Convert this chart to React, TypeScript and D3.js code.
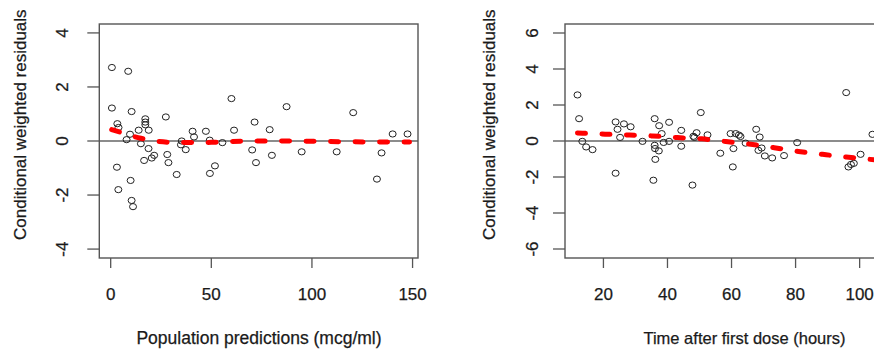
import React from "react";
import * as d3 from "d3";

// ---- Data ----
const popPredX = [0.6, 8.7, 0.6, 10.4, 3.3, 3.9, 9.6, 7.9, 13.9, 17.2, 17.2, 17.2, 18.9, 15, 18.8, 16.6, 20.4, 21.6, 3.1, 3.8, 9.9, 10.4, 11.1, 27.4, 28.1, 28.7, 32.8, 35.3, 34.9, 37.3, 40.7, 41.4, 47.3, 49.2, 49.3, 51.8, 55.5, 60, 61.3, 70.3, 71.5, 72.2, 79, 80.1, 87.4, 94.9, 112.3, 120.5, 132.3, 134.6, 140.1, 147.5];
const popPredCwres = [2.72, 2.58, 1.22, 1.09, 0.64, 0.5, 0.25, 0.05, 0.4, 0.82, 0.7, 0.6, 0.4, -0.1, -0.28, -0.72, -0.63, -0.53, -0.97, -1.8, -1.46, -2.2, -2.43, 0.89, -0.5, -0.8, -1.24, 0.0, -0.14, -0.32, 0.36, 0.15, 0.36, 0.03, -1.2, -0.92, -0.06, 1.57, 0.4, -0.33, 0.7, -0.8, 0.42, -0.53, 1.27, -0.4, -0.4, 1.05, -1.41, -0.44, 0.26, 0.26];

const popSmoothX = [0.5, 5, 10, 15, 20, 30, 40, 50, 60, 75, 100, 120, 148.5];
const popSmoothY = [0.42, 0.32, 0.2, 0.1, 0.02, -0.05, -0.06, -0.05, -0.02, 0, -0.01, -0.03, -0.04];

const timeX = [11.9, 12.4, 13.4, 14.6, 16.6, 23.8, 23.8, 24.4, 25.2, 26.4, 28.5, 32.2, 36.0, 37.4, 38.2, 36.0, 36.1, 37.3, 38.8, 36.2, 35.6, 40.5, 40.5, 44.3, 44.3, 47.8, 48.1, 48.4, 49.1, 50.4, 52.5, 56.5, 59.7, 60.6, 60.4, 61.3, 62.3, 62.8, 64.4, 67.7, 68.8, 68.4, 69.4, 70.4, 72.7, 76.4, 80.5, 95.8, 96.5, 97.3, 98.2, 100.3, 104.0];
const timeCwres = [2.56, 1.24, -0.02, -0.33, -0.48, -1.79, 1.06, 0.65, 0.2, 0.95, 0.79, -0.02, 1.24, 0.85, 0.41, -0.24, -0.42, -0.55, -0.08, -1.02, -2.18, 1.04, -0.02, 0.59, -0.29, -2.45, 0.26, 0.2, 0.46, 1.58, 0.34, -0.68, 0.41, -0.42, -1.44, 0.41, 0.33, 0.25, -0.12, 0.65, 0.22, -0.52, -0.39, -0.83, -0.94, -0.81, -0.09, 2.69, -1.44, -1.3, -1.24, -0.74, 0.37];

const timeSmoothX = [11.9, 20.5, 28.2, 35.4, 43.1, 50.7, 58.2, 66, 73.3, 80.9, 88.4, 95.8, 103.2, 110];
const timeSmoothY = [0.45, 0.38, 0.33, 0.28, 0.19, 0.12, -0.03, -0.18, -0.37, -0.58, -0.74, -0.89, -1.02, -1.12];

const popXTicks = [0, 50, 100, 150];
const popYTicks = [-4, -2, 0, 2, 4];
const timeXTicks = [20, 40, 60, 80, 100];
const timeYTicks = [-6, -4, -2, 0, 2, 4, 6];

const yLabel = "Conditional weighted residuals";
const popXLabel = "Population predictions (mcg/ml)";
const timeXLabel = "Time after first dose (hours)";

const FONT = "'Liberation Sans', Arial, Helvetica, sans-serif";
const AX = "#555";
const TXT = "#1a1a1a";

type PanelProps = {
  box: { x0: number; x1: number; y0: number; y1: number };
  xDomain: [number, number];
  yDomain: [number, number];
  xs: number[];
  ys: number[];
  sx: number[];
  sy: number[];
  xTicks: number[];
  yTicks: number[];
  xLabel: string;
  xLabelX: number;
  xLabelSize: number;
  yLabelX: number;
  yTickLabelX: number;
};

function Panel(p: PanelProps) {
  const { box } = p;
  const x = d3.scaleLinear().domain(p.xDomain).range([box.x0, box.x1]);
  const y = d3.scaleLinear().domain(p.yDomain).range([box.y1, box.y0]);
  const smooth = d3
    .line<number>()
    .x((_, i) => x(p.sx[i]))
    .y((d) => y(d))
    .curve(d3.curveMonotoneX)(p.sy);
  const textProps = { fontFamily: FONT, fill: TXT, stroke: TXT, strokeWidth: 0.25 };
  return (
    <g>
      <line x1={box.x0} x2={box.x1} y1={y(0)} y2={y(0)} stroke="#666" strokeWidth={1.5} />
      {p.xs.map((v, i) => (
        <ellipse key={i} cx={x(v)} cy={y(p.ys[i])} rx={3.5} ry={3.1} fill="none" stroke="#222" strokeWidth={1} />
      ))}
      <path d={smooth || ""} fill="none" stroke="#ff0000" strokeWidth={5} strokeDasharray="8 16.5" strokeLinecap="round" />
      <rect x={box.x0} y={box.y0} width={box.x1 - box.x0} height={box.y1 - box.y0} fill="none" stroke={AX} strokeWidth={1.4} />
      {p.xTicks.map((t) => (
        <g key={"x" + t}>
          <line x1={x(t)} x2={x(t)} y1={box.y1} y2={box.y1 + 10} stroke={AX} strokeWidth={1.3} />
          <text x={x(t)} y={300} textAnchor="middle" fontSize={17} {...textProps}>
            {t}
          </text>
        </g>
      ))}
      {p.yTicks.map((t) => (
        <g key={"y" + t}>
          <line x1={box.x0 - 12} x2={box.x0} y1={y(t)} y2={y(t)} stroke={AX} strokeWidth={1.3} />
          <text
            transform={`translate(${p.yTickLabelX},${y(t)}) rotate(-90)`}
            textAnchor="middle"
            fontSize={17}
            {...textProps}
          >
            {t}
          </text>
        </g>
      ))}
      <text x={p.xLabelX} y={344} textAnchor="middle" fontSize={p.xLabelSize} {...textProps}>
        {p.xLabel}
      </text>
      <text
        transform={`translate(${p.yLabelX},${124.7}) rotate(-90)`}
        textAnchor="middle"
        fontSize={17}
        {...textProps}
      >
        {yLabel}
      </text>
    </g>
  );
}

export default function App() {
  return (
    <svg width={874} height={352} style={{ position: "absolute", left: 0, top: 0, background: "#fff" }}>
      <rect x={0} y={0} width={874} height={352} fill="#fff" />
      <Panel
        box={{ x0: 99.3, x1: 418, y0: 24, y1: 258 }}
        xDomain={[-5.66, 152.7]}
        yDomain={[-4.33, 4.33]}
        xs={popPredX}
        ys={popPredCwres}
        sx={popSmoothX}
        sy={popSmoothY}
        xTicks={popXTicks}
        yTicks={popYTicks}
        xLabel={popXLabel}
        xLabelX={259}
        xLabelSize={17.5}
        yLabelX={25.5}
        yTickLabelX={68}
      />
      <Panel
        box={{ x0: 565, x1: 924, y0: 24, y1: 258 }}
        xDomain={[8.0, 120.1]}
        yDomain={[-6.5, 6.5]}
        xs={timeX}
        ys={timeCwres}
        sx={timeSmoothX}
        sy={timeSmoothY}
        xTicks={timeXTicks}
        yTicks={timeYTicks}
        xLabel={timeXLabel}
        xLabelX={744.5}
        xLabelSize={16.5}
        yLabelX={495.3}
        yTickLabelX={537.7}
      />
    </svg>
  );
}
